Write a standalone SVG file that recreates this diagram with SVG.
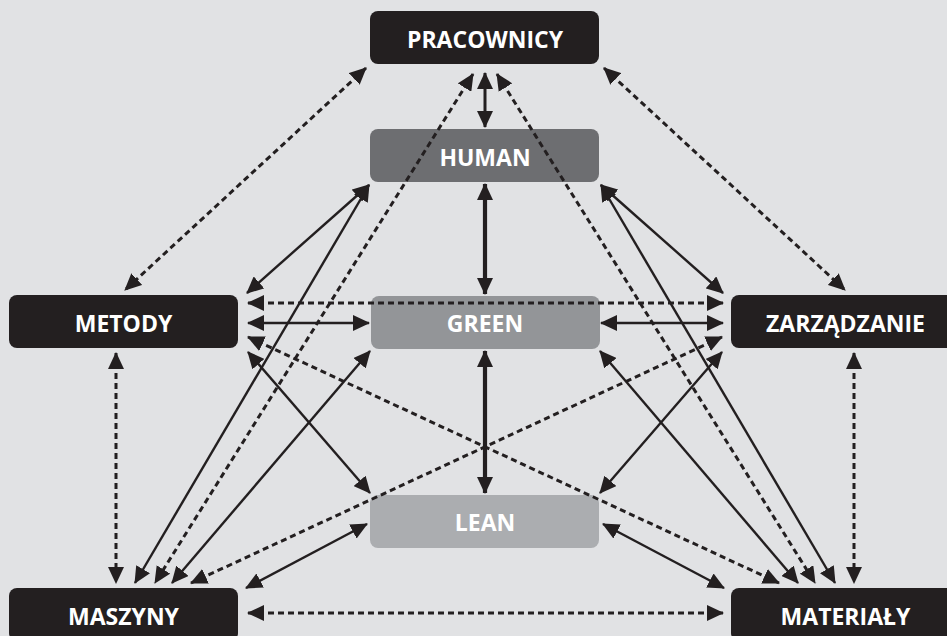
<svg xmlns="http://www.w3.org/2000/svg" width="947" height="636" viewBox="0 0 947 636">
  <defs>
    <style>
      .bg { fill: #e1e2e4; }
      .box { stroke: none; }
      .dark { fill: #231f20; }
      .human { fill: #6d6e71; }
      .green { fill: #939598; }
      .lean { fill: #abadb0; }
      .label { font-family: "Open Sans", "Liberation Sans", sans-serif; font-weight: 700; font-size: 23px; fill: #ffffff; text-anchor: middle; }
      .conn { fill: none; stroke: #231f20; marker-start: url(#head); marker-end: url(#head); }
      .solid { stroke-width: 2.4; }
      .thick { stroke-width: 4.2; }
      .mid { stroke-width: 3; }
      .dash { stroke-width: 3; stroke-dasharray: 6 4; }
    </style>
    <marker id="head" viewBox="0 0 17 16" refX="16" refY="8" markerWidth="17" markerHeight="16" markerUnits="userSpaceOnUse" orient="auto-start-reverse">
      <path d="M0,0 L17,8 L0,16 z" fill="#231f20" stroke="none"/>
    </marker>
  </defs>

  <rect class="bg" x="0" y="0" width="947" height="636"/>

  <!-- nodes -->
  <g id="pracownicy">
    <rect class="box dark" x="370" y="11" width="229" height="53" rx="8"/>
    <text class="label" x="485" y="48">PRACOWNICY</text>
  </g>
  <g id="human">
    <rect class="box human" x="370" y="129" width="229" height="53" rx="8"/>
    <text class="label" x="485" y="166">HUMAN</text>
  </g>
  <g id="green">
    <rect class="box green" x="371" y="296" width="229" height="53" rx="8"/>
    <text class="label" x="485" y="332">GREEN</text>
  </g>
  <g id="lean">
    <rect class="box lean" x="370" y="495" width="229" height="53" rx="8"/>
    <text class="label" x="485" y="531">LEAN</text>
  </g>
  <g id="metody">
    <rect class="box dark" x="9" y="295" width="229" height="53" rx="8"/>
    <text class="label" x="123.5" y="332">METODY</text>
  </g>
  <g id="zarzadzanie">
    <rect class="box dark" x="731" y="295" width="229" height="53" rx="8"/>
    <text class="label" x="845.5" y="332">ZARZĄDZANIE</text>
  </g>
  <g id="maszyny">
    <rect class="box dark" x="9" y="588" width="229" height="53" rx="8"/>
    <text class="label" x="123.5" y="625">MASZYNY</text>
  </g>
  <g id="materialy">
    <rect class="box dark" x="731" y="588" width="229" height="53" rx="8"/>
    <text class="label" x="845.5" y="625">MATERIAŁY</text>
  </g>

  <!-- connectors (all two-way) -->
  <g id="connectors">
    <!-- solid links -->
    <line class="conn mid" x1="485" y1="73" x2="485" y2="127"/>
    <line class="conn thick" x1="485" y1="184" x2="485" y2="294"/>
    <line class="conn thick" x1="485" y1="351" x2="485" y2="493"/>
    <line class="conn solid" x1="248" y1="323" x2="369" y2="323"/>
    <line class="conn solid" x1="601" y1="323" x2="723" y2="323"/>
    <line class="conn solid" x1="369" y1="185" x2="247" y2="293"/>
    <line class="conn solid" x1="601" y1="185" x2="723" y2="293"/>
    <line class="conn solid" x1="369" y1="185" x2="135" y2="583"/>
    <line class="conn solid" x1="601" y1="185" x2="835" y2="583"/>
    <line class="conn solid" x1="370" y1="351" x2="172" y2="583"/>
    <line class="conn solid" x1="600" y1="351" x2="798" y2="583"/>
    <line class="conn solid" x1="248" y1="352" x2="370" y2="493"/>
    <line class="conn solid" x1="722" y1="352" x2="600" y2="493"/>
    <line class="conn solid" x1="367" y1="524" x2="246" y2="588"/>
    <line class="conn solid" x1="603" y1="524" x2="724" y2="588"/>
    <!-- dashed links -->
    <line class="conn dash" x1="366" y1="68" x2="125" y2="290"/>
    <line class="conn dash" x1="604" y1="68" x2="845" y2="290"/>
    <line class="conn dash" x1="473" y1="74" x2="155" y2="583"/>
    <line class="conn dash" x1="497" y1="74" x2="815" y2="583"/>
    <line class="conn dash" x1="248" y1="303" x2="723" y2="303"/>
    <line class="conn dash" x1="248" y1="337" x2="779" y2="583"/>
    <line class="conn dash" x1="722" y1="337" x2="191" y2="583"/>
    <line class="conn dash" x1="116" y1="353" x2="116" y2="583"/>
    <line class="conn dash" x1="854" y1="353" x2="854" y2="583"/>
    <line class="conn dash" x1="248" y1="613" x2="723" y2="613"/>
  </g>
</svg>
